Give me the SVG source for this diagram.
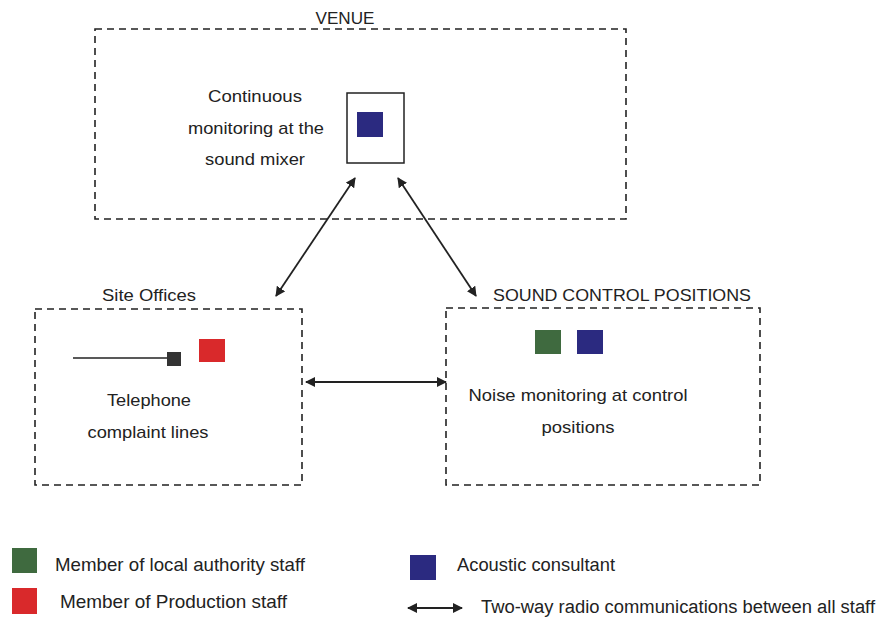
<svg xmlns="http://www.w3.org/2000/svg" width="883" height="623" viewBox="0 0 883 623">
<style>
text{font-family:"Liberation Sans",Arial,sans-serif;font-size:17px;fill:#222}
.lg{font-size:19px}
.lg2{font-size:18px}
.box{fill:none;stroke:#222;stroke-width:1.6;stroke-dasharray:7 5}
.c{stroke:#222;stroke-width:1.8;fill:none}
</style>
<defs>
<marker id="ah" viewBox="0 0 10 10" refX="9" refY="5" markerWidth="10" markerHeight="10" orient="auto-start-reverse" markerUnits="userSpaceOnUse">
<path d="M0,0 L10,5 L0,10 z" fill="#222"/>
</marker>
</defs>
<rect width="883" height="623" fill="#fff"/>
<g id="venue">
<rect class="box" x="95" y="29" width="531" height="190"/>
<text x="345" y="24" text-anchor="middle" textLength="59" lengthAdjust="spacingAndGlyphs">VENUE</text>
<rect x="347" y="93" width="57" height="70" fill="none" stroke="#222" stroke-width="1.5"/>
<rect x="357" y="112" width="26" height="25" fill="#2b2a80"/>
<text x="255" y="102" text-anchor="middle" textLength="94" lengthAdjust="spacingAndGlyphs">Continuous</text>
<text x="256" y="134" text-anchor="middle" textLength="136" lengthAdjust="spacingAndGlyphs">monitoring at the</text>
<text x="255" y="165" text-anchor="middle" textLength="100" lengthAdjust="spacingAndGlyphs">sound mixer</text>
</g>
<g id="site-offices">
<rect class="box" x="35" y="309" width="267" height="176"/>
<text x="149" y="301" text-anchor="middle" textLength="94" lengthAdjust="spacingAndGlyphs">Site Offices</text>
<line x1="73" y1="358" x2="168" y2="358" stroke="#222" stroke-width="1.5"/>
<rect x="167" y="352" width="14" height="14" fill="#333"/>
<rect x="199" y="339" width="26" height="23" fill="#d9292b"/>
<text x="149" y="406" text-anchor="middle" textLength="84" lengthAdjust="spacingAndGlyphs">Telephone</text>
<text x="148" y="438" text-anchor="middle" textLength="121" lengthAdjust="spacingAndGlyphs">complaint lines</text>
</g>
<g id="sound-control">
<rect class="box" x="446" y="308" width="314" height="177"/>
<text x="622" y="301" text-anchor="middle" textLength="258" lengthAdjust="spacingAndGlyphs">SOUND CONTROL POSITIONS</text>
<rect x="535" y="330" width="26" height="24" fill="#3f6a3f"/>
<rect x="577" y="330" width="26" height="24" fill="#2b2a80"/>
<text x="578" y="401" text-anchor="middle" textLength="219" lengthAdjust="spacingAndGlyphs">Noise monitoring at control</text>
<text x="578" y="433" text-anchor="middle" textLength="73" lengthAdjust="spacingAndGlyphs">positions</text>
</g>
<g id="connectors">
<line class="c" x1="276" y1="296" x2="355" y2="178" marker-start="url(#ah)" marker-end="url(#ah)"/>
<line class="c" x1="476" y1="296" x2="398" y2="178" marker-start="url(#ah)" marker-end="url(#ah)"/>
<line class="c" x1="306" y1="382" x2="446" y2="382" marker-start="url(#ah)" marker-end="url(#ah)"/>
</g>
<g id="legend">
<rect x="12" y="548" width="25" height="25" fill="#3f6a3f"/>
<text class="lg" x="55" y="571" textLength="250" lengthAdjust="spacingAndGlyphs">Member of local authority staff</text>
<rect x="12" y="588" width="25" height="26" fill="#d9292b"/>
<text class="lg" x="60" y="608" textLength="227" lengthAdjust="spacingAndGlyphs">Member of Production staff</text>
<rect x="410" y="555" width="26" height="25" fill="#2b2a80"/>
<text class="lg" x="457" y="571" textLength="158" lengthAdjust="spacingAndGlyphs">Acoustic consultant</text>
<line class="c" x1="408" y1="608" x2="462" y2="608" marker-start="url(#ah)" marker-end="url(#ah)"/>
<text class="lg2" x="481" y="613" textLength="394" lengthAdjust="spacingAndGlyphs">Two-way radio communications between all staff</text>
</g>
</svg>
